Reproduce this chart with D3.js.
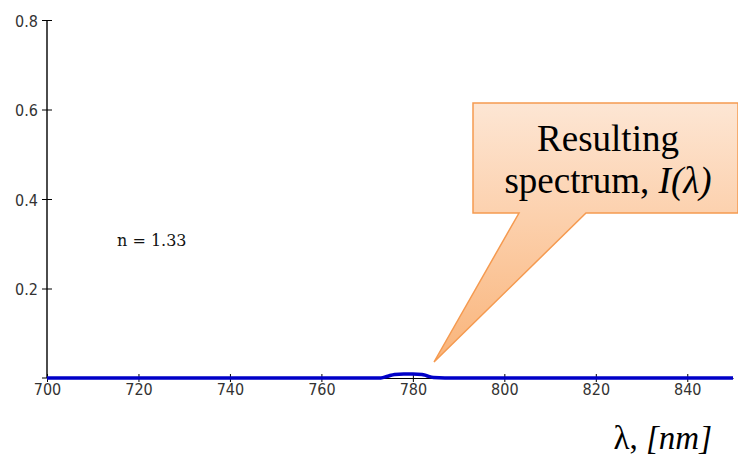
<!DOCTYPE html>
<html><head><meta charset="utf-8">
<script src="https://cdn.jsdelivr.net/npm/d3@7"></script>
<style>body{margin:0;background:#fff}svg{display:block}</style>
</head><body>
<script>
const wavelengths = [700, 720, 740, 760, 770, 773, 774.5, 776, 778, 780, 782, 783, 784.5, 787, 790, 800, 820, 840, 850];
const intensity   = [0, 0, 0, 0, 0, 0, 0.004, 0.008, 0.009, 0.009, 0.008, 0.005, 0.001, 0, 0, 0, 0, 0, 0];
const xTicks = [700, 720, 740, 760, 780, 800, 820, 840];
const yTicks = [0.2, 0.4, 0.6, 0.8];
const annotation = "n = 1.33";

const W = 738, H = 463;
const svg = d3.select("body").append("svg").attr("width", W).attr("height", H);
const x = d3.scaleLinear().domain([700, 850]).range([47, 733]);
const y = d3.scaleLinear().domain([0, 0.8]).range([378, 20]);
const tickFont = "DejaVu Sans Condensed, DejaVu Sans, sans-serif";

// y axis
const yAx = svg.append("g").attr("transform", "translate(47,0)")
  .call(d3.axisLeft(y).tickValues(yTicks).tickFormat(d3.format(".1f")).tickSize(5).tickSizeOuter(0));
yAx.select(".domain").attr("d", `M0,${y(0.8)}V${y(0)}`).attr("stroke", "#000").attr("stroke-width", 1.4);
yAx.selectAll(".tick line").attr("x1", 5).attr("x2", -5).attr("stroke", "#000");
yAx.selectAll(".tick text").attr("x", -9).attr("dy", "0.38em").attr("font-family", tickFont).attr("font-size", 16).attr("fill", "#333");
svg.append("line").attr("x1", 42).attr("x2", 52).attr("y1", y(0)).attr("y2", y(0)).attr("stroke", "#000");

// x axis
const xAx = svg.append("g").attr("transform", `translate(0,${y(0)})`)
  .call(d3.axisBottom(x).tickValues(xTicks).tickFormat(d3.format("d")).tickSize(4).tickSizeOuter(0));
xAx.select(".domain").attr("stroke", "#000");
xAx.selectAll(".tick line").attr("y1", -4).attr("y2", 4).attr("stroke", "#000");
xAx.selectAll(".tick text").attr("y", 6).attr("font-family", tickFont).attr("font-size", 16).attr("fill", "#333");

// spectrum line
const line = d3.line().x((d, i) => x(wavelengths[i])).y(d => y(d)).curve(d3.curveMonotoneX);
svg.append("path").datum(intensity).attr("d", line)
  .attr("fill", "none").attr("stroke", "#0000c8").attr("stroke-width", 3.5);

// annotation
svg.append("text").attr("x", 117).attr("y", 246).text(annotation)
  .attr("font-family", "DejaVu Serif, serif").attr("font-size", 16).attr("fill", "#111");

// callout
const defs = svg.append("defs");
const grad2 = defs.append("linearGradient").attr("id", "cg2").attr("gradientUnits", "userSpaceOnUse")
  .attr("x1", 0).attr("y1", 103).attr("x2", 0).attr("y2", 362);
grad2.append("stop").attr("offset", "0%").attr("stop-color", "#fde6d4");
grad2.append("stop").attr("offset", "45%").attr("stop-color", "#fcd0ac");
grad2.append("stop").attr("offset", "100%").attr("stop-color", "#f9b47a");
const path = `M473,103 L738,103 L738,213 L586,213 L434,362 L519,213 L473,213 Z`;
svg.append("path").attr("d", path).attr("fill", "url(#cg2)").attr("stroke", "#f59a50").attr("stroke-width", 1.5);

const tf = "Liberation Serif, Times New Roman, serif";
svg.append("text").attr("x", 608).attr("y", 151).attr("text-anchor", "middle")
  .attr("font-family", tf).attr("font-size", 37).attr("fill", "#000").text("Resulting");
const t2 = svg.append("text").attr("x", 608).attr("y", 193).attr("text-anchor", "middle")
  .attr("font-family", tf).attr("font-size", 37).attr("fill", "#000");
t2.append("tspan").text("spectrum, ");
t2.append("tspan").attr("font-style", "italic").text("I(λ)");

const t3 = svg.append("text").attr("x", 712).attr("y", 449).attr("text-anchor", "end")
  .attr("font-family", tf).attr("font-size", 33).attr("fill", "#000");
t3.append("tspan").text("λ, ");
t3.append("tspan").attr("font-style", "italic").text("[nm]");
</script>
</body></html>
